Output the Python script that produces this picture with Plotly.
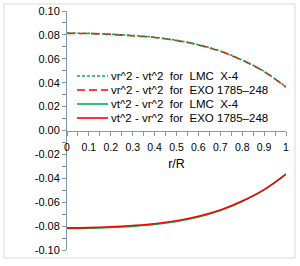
import plotly.graph_objects as go

r = [0, 0.1, 0.2, 0.3, 0.4, 0.5, 0.6, 0.7, 0.8, 0.9, 1.0]
top_lmc = [0.0815, 0.0813, 0.0806, 0.0795, 0.0780, 0.0755, 0.0718, 0.0665, 0.0590, 0.0495, 0.0365]
top_exo = [0.0813, 0.0811, 0.0804, 0.0793, 0.0778, 0.0753, 0.0716, 0.0663, 0.0588, 0.0493, 0.0363]
bot_lmc = [-0.0820, -0.0818, -0.0812, -0.0802, -0.0787, -0.0762, -0.0724, -0.0670, -0.0594, -0.0497, -0.0366]
bot_exo = [-0.0815, -0.0813, -0.0806, -0.0795, -0.0780, -0.0755, -0.0718, -0.0665, -0.0590, -0.0495, -0.0365]

x_tickvals = [0, 0.1, 0.2, 0.3, 0.4, 0.5, 0.6, 0.7, 0.8, 0.9, 1.0]
x_ticktext = ["0", "0.1", "0.2", "0.3", "0.4", "0.5", "0.6", "0.7", "0.8", "0.9", "1"]
x_minor = [0.05, 0.15, 0.25, 0.35, 0.45, 0.55, 0.65, 0.75, 0.85, 0.95]
y_tickvals = [-0.10, -0.08, -0.06, -0.04, -0.02, 0.0, 0.02, 0.04, 0.06, 0.08, 0.10]
y_ticktext = ["-0.10", "-0.08", "-0.06", "-0.04", "-0.02", "0.00", "0.02", "0.04", "0.06", "0.08", "0.10"]

names = ["vr^2 - vt^2  for  LMC  X-4", "vr^2 - vt^2  for  EXO 1785\u2013248",
         "vt^2 - vr^2  for  LMC  X-4", "vt^2 - vr^2  for  EXO 1785\u2013248"]

green = "#00b050"
red = "#ff0000"
styles = [(green, "3px,2px"), (red, "8px,4px"), (green, "solid"), (red, "solid")]

fig = go.Figure()
fig.add_trace(go.Scatter(x=r, y=bot_lmc, mode="lines", name=names[2], line=dict(color=green, width=1.6, shape="spline")))
fig.add_trace(go.Scatter(x=r, y=bot_exo, mode="lines", name=names[3], line=dict(color=red, width=1.6, shape="spline")))
fig.add_trace(go.Scatter(x=r, y=top_exo, mode="lines", name=names[1], line=dict(color=red, width=1.6, dash=styles[1][1], shape="spline")))
fig.add_trace(go.Scatter(x=r, y=top_lmc, mode="lines", name=names[0], line=dict(color=green, width=1.6, dash=styles[0][1], shape="spline")))

axcol = "#8497b0"
L, R, T, B = 67, 14, 11, 16
W, H = 300, 266
pw, ph = W - L - R, H - T - B

def px_x(p):
    return (p - L) / pw

def px_y(p):
    return 1 - (p - T) / ph

# manual legend block (Excel-like compact legend)
shapes = [dict(type="rect", xref="paper", yref="paper",
               x0=px_x(4), x1=px_x(295), y0=px_y(258), y1=px_y(4),
               line=dict(color="#d9d9d9", width=1), fillcolor="rgba(0,0,0,0)", layer="below")]
annotations = []
leg_top, leg_gap = 76, 14
for i, (nm, (col, dash)) in enumerate(zip(names, styles)):
    yc = px_y(leg_top + i * leg_gap)
    shapes.append(dict(type="line", xref="paper", yref="paper",
                       x0=px_x(77), x1=px_x(108), y0=yc, y1=yc,
                       line=dict(color=col, width=1.6, dash=dash)))
    annotations.append(dict(xref="paper", yref="paper", x=px_x(109), y=yc,
                            xanchor="left", yanchor="middle", showarrow=False,
                            text=nm, font=dict(size=11.5)))

fig.update_layout(
    width=W, height=H,
    margin=dict(l=L, r=R, t=T, b=B, autoexpand=False),
    paper_bgcolor="white", plot_bgcolor="white",
    font=dict(family="Liberation Sans, Arial", size=10, color="#000000"),
    showlegend=False,
    xaxis=dict(range=[0, 1], tickvals=x_tickvals, ticktext=x_ticktext, showgrid=False, zeroline=False,
               showline=True, linecolor=axcol, linewidth=1,
               ticks="outside", ticklen=4, tickcolor=axcol,
               minor=dict(tickvals=x_minor, ticks="outside", ticklen=4, tickcolor=axcol),
               anchor="free", position=0.5, automargin=False,
               tickfont=dict(size=10.5), ticklabelstandoff=3,
               title=dict(text="r/R", font=dict(size=12.5), standoff=7)),
    yaxis=dict(range=[-0.1, 0.1], tickvals=y_tickvals, ticktext=y_ticktext, showgrid=False, zeroline=False,
               showline=True, linecolor=axcol, linewidth=1,
               ticks="outside", ticklen=4, tickcolor=axcol,
               minor=dict(dtick=0.01, ticks="outside", ticklen=4, tickcolor=axcol),
               tickfont=dict(size=11), automargin=False),
    shapes=shapes,
    annotations=annotations,
)

fig.write_html("out.html", config={"displayModeBar": False},
               post_script="document.body.style.margin='0';document.body.style.overflow='hidden';")
